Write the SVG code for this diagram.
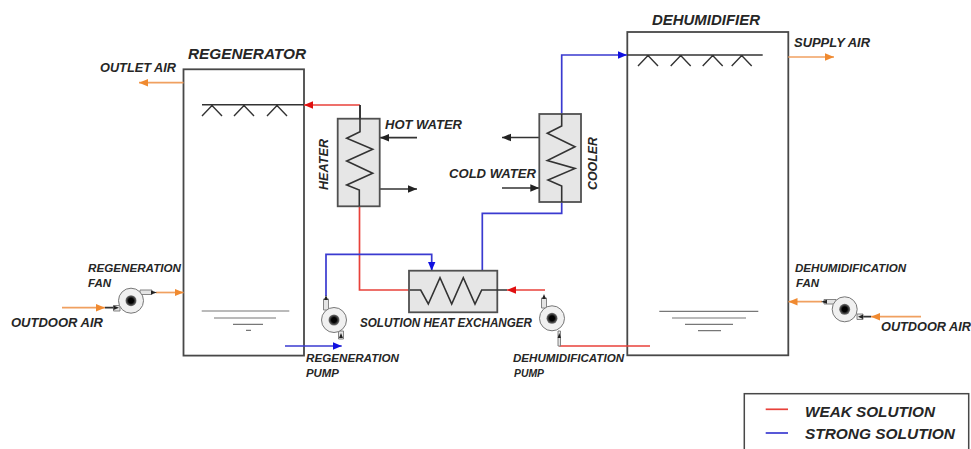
<svg xmlns="http://www.w3.org/2000/svg" width="971" height="449" viewBox="0 0 971 449">
<defs>
<style>
text{font-family:"Liberation Sans",Arial,sans-serif;font-weight:bold;font-style:italic;fill:#262626;font-size:13px}
.vessel{fill:#fff;stroke:#484848;stroke-width:1.8}
.exch{fill:#e6e6e6;stroke:#505050;stroke-width:1.8}
.coil{fill:none;stroke:#333;stroke-width:1.6}
.spray{fill:none;stroke:#333;stroke-width:1.4}
.level{fill:none;stroke:#777;stroke-width:1.2}
.line{fill:none;stroke-width:1.7}
.red{stroke:#e8413a}.blue{stroke:#3a3ad0}.org{stroke:#f0a060}.blk{stroke:#333}
.casing{fill:#f0f0f0;stroke:#777;stroke-width:1}
.noz{fill:#e4e4e4;stroke:#777;stroke-width:.9}
.tip{fill:#222}
.s11{font-size:11.500px}
.s12{font-size:12.500px}
.s15{font-size:15px}
</style>
<marker id="aR" markerUnits="userSpaceOnUse" markerWidth="10" markerHeight="10" refX="9" refY="5" orient="auto"><path d="M0 1.200L9 5L0 8.800Z" fill="#e01010"/></marker>
<marker id="aB" markerUnits="userSpaceOnUse" markerWidth="10" markerHeight="10" refX="9" refY="5" orient="auto"><path d="M0 1.200L9 5L0 8.800Z" fill="#1010e0"/></marker>
<marker id="aO" markerUnits="userSpaceOnUse" markerWidth="10" markerHeight="10" refX="9" refY="5" orient="auto"><path d="M0 1.200L9 5L0 8.800Z" fill="#f08a30"/></marker>
<marker id="aK" markerUnits="userSpaceOnUse" markerWidth="10" markerHeight="10" refX="9" refY="5" orient="auto"><path d="M0 1.200L9 5L0 8.800Z" fill="#222"/></marker>
<radialGradient id="hub"><stop offset="0.45" stop-color="#000"/><stop offset="1" stop-color="#777"/></radialGradient>
<g id="wheel"><circle r="12.500" class="casing"/><circle r="5.500" fill="url(#hub)"/></g>
</defs>

<g id="regenerator">
<rect class="vessel" x="183.500" y="69.300" width="120.500" height="286.300"/>
<path class="spray" d="M202 104.800H304M202 116L212 105.500L222 116M234 116L244 105.500L254 116M267 116L277 105.500L287 116"/>
<path class="level" d="M201.700 311H289.300M214 318H276M233 324.300H263M246 330.300H251"/>
<text class="s15" x="188" y="59" textLength="118" lengthAdjust="spacingAndGlyphs">REGENERATOR</text>
</g>

<g id="dehumidifier">
<rect class="vessel" x="627.300" y="32" width="161" height="323.300"/>
<path class="spray" d="M627 55H762.700M638 66L648 55.500L658 66M670.700 66L680.700 55.500L690.700 66M702.700 66L712.700 55.500L722.700 66M731.700 66L741.700 55.500L751.700 66"/>
<path class="level" d="M659.300 311.300H758.300M672 318H746M685 324.300H733M698 330.700H721"/>
<text class="s15" x="652" y="24.500" textLength="108" lengthAdjust="spacingAndGlyphs">DEHUMIDIFIER</text>
</g>

<g id="connectors">
<path class="line red" d="M360 105H304" marker-end="url(#aR)"/>
<path class="line blk" d="M360 105V118.700"/>
<path class="line red" d="M545 290H507" marker-end="url(#aR)"/>
<path class="line red" d="M410 290H359.500V206"/>
<path class="line red" d="M559.300 346H650"/>
<path class="line blue" d="M561.700 114V55H627" marker-end="url(#aB)"/>
<path class="line blue" d="M561.700 202V213.300H482.300V270.700"/>
<path class="line blue" d="M326 296V254.300H431.700V270.700" marker-end="url(#aB)"/>
<path class="line blue" d="M285 346H341.700" marker-end="url(#aB)"/>
<path class="line org" d="M183.500 82.700H139" marker-end="url(#aO)"/>
<path class="line org" d="M788.300 57H834" marker-end="url(#aO)"/>
<path class="line org" d="M156 292.500H183.500" marker-end="url(#aO)"/>
<path class="line org" d="M62 307.700H105" marker-end="url(#aO)"/>
<path class="line org" d="M822 301.700H788.500" marker-end="url(#aO)"/>
<path class="line org" d="M921 316.700H871" marker-end="url(#aO)"/>
<path class="line blk" d="M105 307.700H113M871 316.700H863"/>
<path class="line blk" d="M417 137.700H380" marker-end="url(#aK)"/>
<path class="line blk" d="M380 189H417" marker-end="url(#aK)"/>
<path class="line blk" d="M539.300 137.500H502" marker-end="url(#aK)"/>
<path class="line blk" d="M502 188H539.300" marker-end="url(#aK)"/>
</g>

<g id="heater">
<rect class="exch" x="337.700" y="118.700" width="42" height="87.600"/>
<path class="coil" d="M360 105V131.700L346.700 138.300L372.700 149.300L346.700 161L372.700 173.300L346.700 185L359.300 190V206"/>
<text transform="translate(328 190) rotate(-90)" textLength="51" lengthAdjust="spacingAndGlyphs">HEATER</text>
<text x="385" y="129" textLength="77" lengthAdjust="spacingAndGlyphs">HOT WATER</text>
</g>

<g id="cooler">
<rect class="exch" x="539.300" y="114" width="41.700" height="88"/>
<path class="coil" d="M561.700 114V126L547.300 133.300L575 146.700L547.300 160.500L575 168.500L548 180L561.700 186V202"/>
<text transform="translate(596.700 190) rotate(-90)" textLength="53" lengthAdjust="spacingAndGlyphs">COOLER</text>
<text x="449" y="178" textLength="87" lengthAdjust="spacingAndGlyphs">COLD WATER</text>
</g>

<g id="solution-heat-exchanger">
<rect class="exch" x="409" y="270.700" width="88.300" height="41.600"/>
<path class="coil" d="M410 290H420.700L428.300 304L440 277.700L451.700 304L463.300 277.700L475 304L481.700 290H507"/>
<text class="s12" x="360" y="327" textLength="172" lengthAdjust="spacingAndGlyphs">SOLUTION HEAT EXCHANGER</text>
</g>

<g id="regeneration-pump">
<path class="noz" d="M323.500 310V299H328.500V310ZM338.500 331V339H343.500V331Z"/>
<path class="tip" d="M324 300L326 295L328 300ZM339 338L341 333L343 338Z"/>
<use href="#wheel" x="334" y="320"/>
<text class="s11" x="306" y="362" textLength="93" lengthAdjust="spacingAndGlyphs">REGENERATION</text>
<text class="s11" x="306" y="376.700" textLength="33" lengthAdjust="spacingAndGlyphs">PUMP</text>
</g>

<g id="dehumidification-pump">
<path class="noz" d="M541.500 308V298H546.500V308ZM558 331V346H560.500V331Z"/>
<path class="tip" d="M542 299L544 294L546 299ZM557.600 338L559.300 333L561 338Z"/>
<use href="#wheel" x="552" y="318.300"/>
<text class="s11" x="513" y="362" textLength="111" lengthAdjust="spacingAndGlyphs">DEHUMIDIFICATION</text>
<text class="s11" x="514" y="376.700" textLength="30" lengthAdjust="spacingAndGlyphs">PUMP</text>
</g>

<g id="regeneration-fan">
<path class="noz" d="M140 290H152V294.500H140ZM113.500 305.500H120V311H113.500Z"/>
<path class="tip" d="M151 290.500L157 292.500L151 294.500ZM113.500 305.500L119 307.700L113.500 310Z"/>
<use href="#wheel" x="131" y="300.700"/>
<text class="s11" x="88" y="271.700" textLength="93" lengthAdjust="spacingAndGlyphs">REGENERATION</text>
<text class="s11" x="88" y="286.700" textLength="23" lengthAdjust="spacingAndGlyphs">FAN</text>
<text class="s12" x="11" y="326.700" textLength="92" lengthAdjust="spacingAndGlyphs">OUTDOOR AIR</text>
</g>

<g id="dehumidification-fan">
<path class="noz" d="M824 299.500H836V304H824ZM857 314H863V319.500H857Z"/>
<path class="tip" d="M827 299.800L821 301.700L827 303.800ZM863 314.500L858 316.700L863 319Z"/>
<use href="#wheel" x="844.700" y="309.300"/>
<text class="s11" x="795" y="271.700" textLength="111" lengthAdjust="spacingAndGlyphs">DEHUMIDIFICATION</text>
<text class="s11" x="796" y="286.700" textLength="23" lengthAdjust="spacingAndGlyphs">FAN</text>
<text class="s12" x="881" y="331" textLength="90" lengthAdjust="spacingAndGlyphs">OUTDOOR AIR</text>
</g>

<g id="outlet-air"><text class="s12" x="100" y="72" textLength="76" lengthAdjust="spacingAndGlyphs">OUTLET AIR</text></g>
<g id="supply-air"><text class="s12" x="794" y="47" textLength="76" lengthAdjust="spacingAndGlyphs">SUPPLY AIR</text></g>

<g id="legend">
<rect x="744.300" y="393.700" width="224.400" height="70" fill="#fff" stroke="#484848" stroke-width="1.500"/>
<path class="line red" d="M765.700 409.300H788"/>
<path class="line blue" d="M765.700 433H788"/>
<text class="s15" x="805" y="416.700" textLength="130" lengthAdjust="spacingAndGlyphs">WEAK SOLUTION</text>
<text class="s15" x="805" y="439" textLength="150" lengthAdjust="spacingAndGlyphs">STRONG SOLUTION</text>
</g>
</svg>
